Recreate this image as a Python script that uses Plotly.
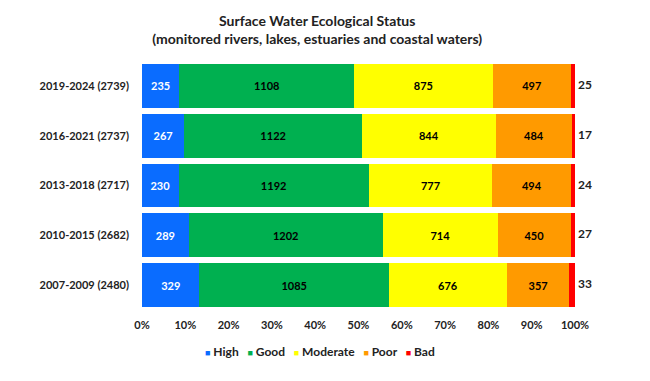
import plotly.graph_objects as go

periods = ["2019-2024 (2739)", "2016-2021 (2737)", "2013-2018 (2717)", "2010-2015 (2682)", "2007-2009 (2480)"]
high = [235, 267, 230, 289, 329]
good = [1108, 1122, 1192, 1202, 1085]
moderate = [875, 844, 777, 714, 676]
poor = [497, 484, 494, 450, 357]
bad = [25, 17, 24, 27, 33]

series = [
    ("High", high, "#0A6CFF", "white"),
    ("Good", good, "#00B050", "black"),
    ("Moderate", moderate, "#FFFF00", "black"),
    ("Poor", poor, "#FF9A00", "black"),
    ("Bad", bad, "#FF0000", "black"),
]

FONT = "Lato"
TXT = "#222222"
fig = go.Figure()
for name, vals, color, tcol in series:
    is_bad = name == "Bad"
    fig.add_trace(go.Bar(
        y=periods, x=vals, name=name, orientation="h",
        marker=dict(color=color, line=dict(width=0)),
        text=None if is_bad else [str(v) for v in vals],
        textposition="none" if is_bad else "inside",
        insidetextanchor="middle",
        textfont=dict(family=FONT, size=11, color=tcol, weight="bold"),
        hoverinfo="skip",
        showlegend=False,
    ))

# "Bad" counts shown just past the end of each 100% bar
fig.add_trace(go.Scatter(
    y=periods, x=[100] * len(periods), mode="text",
    text=[" " + str(v) for v in bad], textposition="middle right",
    textfont=dict(family=FONT, size=12, color=TXT, weight="bold"),
    showlegend=False, hoverinfo="skip", cliponaxis=False,
))

legend_text = "&nbsp;&nbsp;&nbsp;".join(
    f"<span style='color:{c};font-size:9px'>■</span> {n}" for n, _, c, _ in series
)
fig.add_annotation(
    text=legend_text, xref="paper", yref="paper", x=0.41, y=-0.165,
    xanchor="center", yanchor="middle", showarrow=False,
    font=dict(family=FONT, size=12, color=TXT, weight="bold"),
)

fig.update_layout(
    width=650, height=381,
    barmode="stack", barnorm="percent", bargap=0.12,
    paper_bgcolor="white", plot_bgcolor="white",
    margin=dict(l=142, r=75, t=61, b=71),
    title=dict(
        text="Surface Water Ecological Status<br>(monitored rivers, lakes, estuaries and coastal waters)",
        x=0.488, xanchor="center", y=0.933, yanchor="top",
        font=dict(family=FONT, size=14, color=TXT, weight="bold"),
    ),
    showlegend=False,
)
fig.update_xaxes(
    range=[0, 100], dtick=10, ticksuffix="%", showgrid=False, zeroline=False,
    showline=False, ticks="", automargin=False, ticklabelstandoff=7,
    tickfont=dict(family=FONT, size=11, color=TXT, weight="bold"),
)
fig.update_yaxes(
    autorange="reversed", showgrid=False, showline=False, ticks="",
    ticklabelstandoff=12, automargin=False,
    tickfont=dict(family=FONT, size=11, color=TXT, weight="bold"),
)

fig.write_html(
    "out.html",
    config={"displayModeBar": False},
    post_script="document.body.style.margin='0';document.body.style.overflow='hidden';",
)
